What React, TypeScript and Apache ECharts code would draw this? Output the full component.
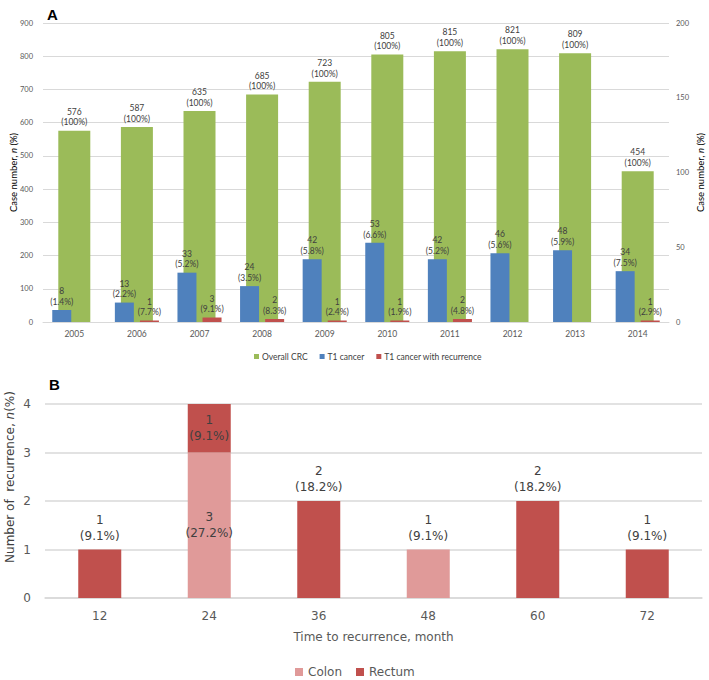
import React, { useEffect, useRef } from "react";
import * as echarts from "echarts";

// ---- Panel A data ----
const years = ["2005", "2006", "2007", "2008", "2009", "2010", "2011", "2012", "2013", "2014"];
const overallCRC = [576, 587, 635, 685, 723, 805, 815, 821, 809, 454];
const t1Cancer = [8, 13, 33, 24, 42, 53, 42, 46, 48, 34];
const t1CancerPct = [1.4, 2.2, 5.2, 3.5, 5.8, 6.6, 5.2, 5.6, 5.9, 7.5];
const t1Recurrence = [null, 1, 3, 2, 1, 1, 2, null, null, 1];
const t1RecurrencePct = [null, 7.7, 9.1, 8.3, 2.4, 1.9, 4.8, null, null, 2.9];
const leftAxisMax = 900;
const leftAxisStep = 100;
const rightAxisMax = 200;
const rightAxisStep = 50;

// ---- Panel B data ----
const months = ["12", "24", "36", "48", "60", "72"];
const colon = [0, 3, 0, 1, 0, 0];
const colonPct = [null, 27.2, null, 9.1, null, null];
const rectum = [1, 1, 2, 0, 2, 1];
const rectumPct = [9.1, 9.1, 18.2, null, 18.2, 9.1];
const bAxisMax = 4;
const bAxisStep = 1;

const GREEN = "#9BBB59";
const BLUE = "#4F81BD";
const RED = "#C0504D";
const PINK = "#E09A99";
const GRID = "#D9D9D9";
const TOPFONT = "Lato, 'Open Sans', sans-serif";
const BOTFONT = "'DejaVu Sans', Verdana, sans-serif";

export default function App() {
  const ref = useRef<HTMLDivElement>(null);
  useEffect(() => {
    document.body.style.margin = "0";
    const chart = echarts.init(ref.current!, null, { renderer: "svg" });

    const topLabel = {
      show: true,
      position: "top" as const,
      distance: 3,
      fontFamily: TOPFONT,
      fontSize: 8.5,
      lineHeight: 10.5,
      color: "#404040",
    };
    const botLabel = {
      fontFamily: BOTFONT,
      fontSize: 12,
      lineHeight: 16,
      color: "#404040",
    };
    const stackedInside = (i: number) => colon[i] > 0 && rectum[i] > 0;

    const option: any = {
      animation: false,
      backgroundColor: "#fff",
      title: [
        { text: "A", left: 42, top: 2, textStyle: { fontFamily: "'Liberation Sans', Arial, sans-serif", fontWeight: "bold", fontSize: 15, color: "#000" } },
        { text: "B", left: 44, top: 372, textStyle: { fontFamily: "'Liberation Sans', Arial, sans-serif", fontWeight: "bold", fontSize: 15, color: "#000" } },
      ],
      legend: [
        {
          left: 249,
          top: 347,
          icon: "rect",
          itemWidth: 5,
          itemHeight: 5,
          itemGap: 12,
          textStyle: { fontFamily: TOPFONT, fontSize: 8.5, color: "#404040", padding: [0, 0, 0, -2] },
          data: ["Overall CRC", "T1 cancer", "T1 cancer with recurrence"],
        },
        {
          left: 290,
          top: 661,
          icon: "rect",
          itemWidth: 8,
          itemHeight: 8,
          itemGap: 14,
          textStyle: { fontFamily: BOTFONT, fontSize: 12, color: "#595959" },
          data: ["Colon", "Rectum"],
        },
      ],
      grid: [
        { left: 43, right: 40, top: 23, height: 299, outerBoundsMode: "none", containLabel: false },
        { left: 45, right: 7, top: 404, height: 194, outerBoundsMode: "none", containLabel: false },
      ],
      xAxis: [
        {
          type: "category",
          gridIndex: 0,
          data: years,
          axisLine: { lineStyle: { color: GRID } },
          axisTick: { show: false },
          axisLabel: { fontFamily: TOPFONT, fontSize: 8.5, color: "#595959", margin: 7 },
        },
        { type: "category", gridIndex: 0, data: years, show: false },
        {
          type: "category",
          gridIndex: 1,
          data: months,
          axisLine: { lineStyle: { color: GRID, width: 1.5 } },
          axisTick: { show: false },
          axisLabel: { fontFamily: BOTFONT, fontSize: 12, color: "#595959", margin: 12 },
          name: "Time to recurrence, month",
          nameLocation: "middle",
          nameGap: 33,
          nameMoveOverlap: false,
          nameTextStyle: { fontFamily: BOTFONT, fontSize: 12, color: "#595959" },
        },
      ],
      yAxis: [
        {
          type: "value",
          gridIndex: 0,
          min: 0,
          max: leftAxisMax,
          interval: leftAxisStep,
          axisLine: { show: false },
          axisTick: { show: false },
          splitLine: { lineStyle: { color: GRID } },
          axisLabel: { fontFamily: TOPFONT, fontSize: 7.5, color: "#595959", margin: 10 },
          name: "Case number, {i|n} (%)",
          nameLocation: "middle",
          nameRotate: 90,
          nameGap: 25,
          nameMoveOverlap: false,
          nameTextStyle: {
            fontFamily: TOPFONT,
            fontSize: 9.5,
            color: "#000",
            rich: { i: { fontStyle: "italic", fontFamily: TOPFONT, fontSize: 9.5, color: "#000" } },
          },
        },
        {
          type: "value",
          gridIndex: 0,
          position: "right",
          min: 0,
          max: rightAxisMax,
          interval: rightAxisStep,
          axisLine: { show: false },
          axisTick: { show: false },
          splitLine: { show: false },
          axisLabel: { fontFamily: TOPFONT, fontSize: 7.5, color: "#595959", margin: 7 },
          name: "Case number, {i|n} (%)",
          nameLocation: "middle",
          nameRotate: 90,
          nameGap: 26,
          nameMoveOverlap: false,
          nameTextStyle: {
            fontFamily: TOPFONT,
            fontSize: 9.5,
            color: "#000",
            rich: { i: { fontStyle: "italic", fontFamily: TOPFONT, fontSize: 9.5, color: "#000" } },
          },
        },
        {
          type: "value",
          gridIndex: 1,
          min: 0,
          max: bAxisMax,
          interval: bAxisStep,
          axisLine: { show: false },
          axisTick: { show: false },
          splitLine: { lineStyle: { color: GRID, width: 1.5 } },
          axisLabel: { fontFamily: BOTFONT, fontSize: 12, color: "#595959", margin: 14 },
          name: "Number of  recurrence, {i|n}(%)",
          nameLocation: "middle",
          nameRotate: 90,
          nameGap: 29,
          nameMoveOverlap: false,
          nameTextStyle: {
            fontFamily: BOTFONT,
            fontSize: 12,
            color: "#404040",
            padding: [0, 0, 0, 48],
            rich: { i: { fontStyle: "italic", fontFamily: BOTFONT, fontSize: 12, color: "#404040" } },
          },
        },
      ],
      series: [
        {
          name: "Overall CRC",
          type: "bar",
          xAxisIndex: 0,
          yAxisIndex: 0,
          barWidth: 32,
          data: overallCRC,
          itemStyle: { color: GREEN },
          label: { ...topLabel, formatter: (p: any) => `${p.value}\n(100%)` },
          z: 1,
        },
        {
          name: "T1 cancer",
          type: "bar",
          xAxisIndex: 1,
          yAxisIndex: 1,
          barWidth: 19,
          barGap: "32%",
          data: t1Cancer,
          itemStyle: { color: BLUE },
          label: { ...topLabel, formatter: (p: any) => `${p.value}\n(${t1CancerPct[p.dataIndex]}%)` },
          z: 3,
        },
        {
          name: "T1 cancer with recurrence",
          type: "bar",
          xAxisIndex: 1,
          yAxisIndex: 1,
          barWidth: 19,
          barGap: "32%",
          data: t1Recurrence,
          itemStyle: { color: RED },
          label: {
            ...topLabel,
            formatter: (p: any) => (p.value == null ? "" : `${p.value}\n(${t1RecurrencePct[p.dataIndex]}%)`),
          },
          z: 3,
        },
        {
          name: "Colon",
          type: "bar",
          stack: "b",
          xAxisIndex: 2,
          yAxisIndex: 2,
          barWidth: 43,
          itemStyle: { color: PINK },
          data: colon.map((v, i) => ({
            value: v,
            label: { position: stackedInside(i) ? "inside" : "top" },
          })),
          label: {
            show: true,
            ...botLabel,
            distance: 6,
            formatter: (p: any) => (p.value ? `${p.value}\n(${colonPct[p.dataIndex]}%)` : ""),
          },
        },
        {
          name: "Rectum",
          type: "bar",
          stack: "b",
          xAxisIndex: 2,
          yAxisIndex: 2,
          barWidth: 43,
          itemStyle: { color: RED },
          data: rectum.map((v, i) => ({
            value: v,
            label: { position: stackedInside(i) ? "inside" : "top" },
          })),
          label: {
            show: true,
            ...botLabel,
            distance: 6,
            formatter: (p: any) => (p.value ? `${p.value}\n(${rectumPct[p.dataIndex]}%)` : ""),
          },
        },
      ],
    };
    chart.setOption(option);
    return () => chart.dispose();
  }, []);
  return <div ref={ref} style={{ width: 709, height: 680 }} />;
}
